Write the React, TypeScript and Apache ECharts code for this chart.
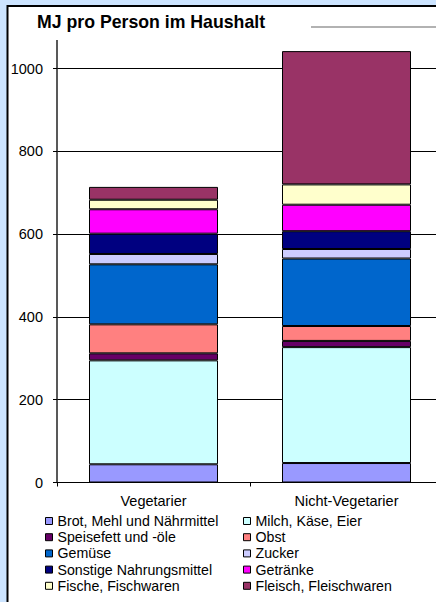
import React, { useEffect, useRef } from "react";
import * as echarts from "echarts";

// Energy use (MJ per person in the household), stacked by food group
const categories = ["Vegetarier", "Nicht-Vegetarier"];

const groupNames = [
  "Brot, Mehl und Nährmittel",
  "Milch, Käse, Eier",
  "Speisefett und -öle",
  "Obst",
  "Gemüse",
  "Zucker",
  "Sonstige Nahrungsmittel",
  "Getränke",
  "Fische, Fischwaren",
  "Fleisch, Fleischwaren",
];

const vegetarianValues = [44, 251, 17, 70, 145, 25, 49, 59, 23, 31];
const nonVegetarianValues = [47, 280, 15, 36, 163, 23, 43, 64, 49, 322];

const groupColors = [
  "#9999FF",
  "#CCFFFF",
  "#660066",
  "#FF8080",
  "#0066CC",
  "#CCCCFF",
  "#000080",
  "#FF00FF",
  "#FFFFCC",
  "#993366",
];

const yTicks = { min: 0, max: 1000, interval: 200 };

const FONT = '"Liberation Sans", Arial, Helvetica, sans-serif';

export default function App() {
  const ref = useRef<HTMLDivElement>(null);

  useEffect(() => {
    if (!ref.current) return;
    const chart = echarts.init(ref.current, undefined, { renderer: "svg" });

    const leftColumn = groupNames.filter((_, i) => i % 2 === 0);
    const rightColumn = groupNames.filter((_, i) => i % 2 === 1);

    const legendBase = {
      orient: "vertical" as const,
      top: 514,
      padding: 0,
      itemWidth: 7,
      itemHeight: 7,
      itemGap: 2.2,
      icon: "rect",
      textStyle: { fontSize: 14.2, color: "#000", fontFamily: FONT },
      itemStyle: { borderColor: "#000", borderWidth: 1 },
    };

    chart.setOption({
      animation: false,
      textStyle: { fontFamily: FONT },
      graphic: [
        {
          type: "rect",
          z: -10,
          silent: true,
          shape: { x: 7.5, y: 6, width: 520, height: 700 },
          style: { fill: "#fff", stroke: "#000", lineWidth: 2 },
        },
        {
          type: "line",
          silent: true,
          shape: { x1: 311, y1: 27, x2: 520, y2: 27 },
          style: { stroke: "#999", lineWidth: 1.5 },
        },
        {
          type: "line",
          silent: true,
          shape: { x1: 57, y1: 40, x2: 57, y2: 69 },
          style: { stroke: "#222", lineWidth: 1.5 },
        },
        {
          type: "text",
          left: 37,
          top: 13,
          style: {
            text: "MJ pro Person im Haushalt",
            fontSize: 17.7,
            fontWeight: "bold",
            fontFamily: FONT,
            fill: "#000",
          },
        },
      ],
      legend: [
        { ...legendBase, left: 45, data: leftColumn },
        { ...legendBase, left: 243, data: rightColumn },
      ],
      grid: { left: 57, top: 68.5, width: 386, height: 414 },
      xAxis: {
        type: "category",
        data: categories,
        axisLine: { lineStyle: { color: "#000", width: 1 } },
        axisTick: { show: true, length: 4, lineStyle: { color: "#000" } },
        axisLabel: { fontSize: 14.5, color: "#000", margin: 11, fontFamily: FONT },
      },
      yAxis: {
        type: "value",
        min: yTicks.min,
        max: yTicks.max,
        interval: yTicks.interval,
        axisLine: { show: true, lineStyle: { color: "#222", width: 1.5 } },
        axisTick: { show: true, length: 4, lineStyle: { color: "#000" } },
        axisLabel: {
          fontSize: 14.5,
          color: "#000",
          margin: 14,
          fontFamily: FONT,
          formatter: (v: number) => String(v),
        },
        splitLine: { show: true, lineStyle: { color: "#000", width: 1 } },
      },
      series: groupNames.map((name, i) => ({
        name,
        type: "bar",
        stack: "total",
        barWidth: 129,
        clip: false,
        data: [vegetarianValues[i], nonVegetarianValues[i]],
        itemStyle: { color: groupColors[i], borderColor: "#000", borderWidth: 1 },
      })),
    });

    return () => chart.dispose();
  }, []);

  return (
    <div
      style={{
        position: "fixed",
        left: 0,
        top: 0,
        width: 436,
        height: 602,
        overflow: "hidden",
        background: "#CCE4FF",
      }}
    >
      <div ref={ref} style={{ width: 480, height: 602 }} />
    </div>
  );
}
